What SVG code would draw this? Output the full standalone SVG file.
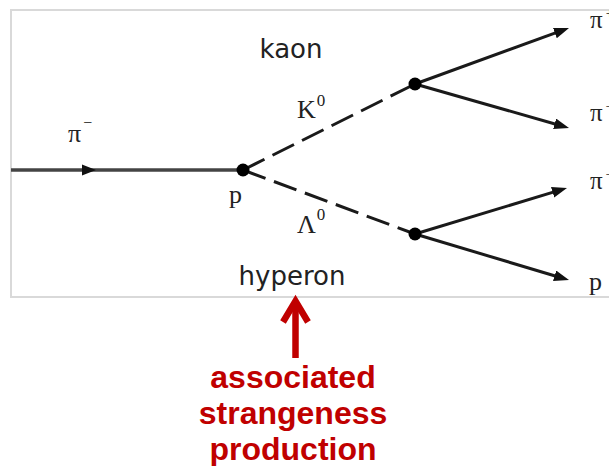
<svg xmlns="http://www.w3.org/2000/svg" width="609" height="466" viewBox="0 0 609 466">
<style>
.serif{font-family:"Liberation Serif","Times New Roman",serif;fill:#222}
.comic{font-family:"DejaVu Sans","Liberation Sans",sans-serif;fill:#222;font-size:26px;text-anchor:middle}
.red{font-family:"Liberation Sans",Arial,sans-serif;font-weight:bold;fill:#c00000;font-size:32px;text-anchor:middle}
.solid{stroke:#1a1a1a;stroke-width:3;fill:none}
.dash{stroke:#1a1a1a;stroke-width:3;fill:none;stroke-dasharray:24 9}
.vtx{fill:#000}
</style>
<defs>
<marker id="ah" markerUnits="userSpaceOnUse" markerWidth="16" markerHeight="12" refX="5" refY="5.5" orient="auto">
<path d="M0,0 L15,5.5 L0,11 z" fill="#111"/>
</marker>
</defs>
<rect x="11" y="10" width="610" height="287" fill="#fff" stroke="#d9d9d9" stroke-width="2"/>
<g id="connectors">
<line x1="11" y1="170" x2="243" y2="170" stroke="#444" stroke-width="3.5"/>
<polygon points="82,164.5 96,170 82,175.5" fill="#111"/>
<line class="dash" x1="243" y1="170" x2="415" y2="84"/>
<line class="dash" x1="243" y1="170" x2="415" y2="234"/>
<line class="solid" x1="415" y1="84" x2="559.6" y2="31.4" marker-end="url(#ah)"/>
<line class="solid" x1="415" y1="84" x2="559.4" y2="125.2" marker-end="url(#ah)"/>
<line class="solid" x1="415" y1="234" x2="557.4" y2="190.9" marker-end="url(#ah)"/>
<line class="solid" x1="415" y1="234" x2="559.4" y2="277.2" marker-end="url(#ah)"/>
</g>
<g id="vertex-p">
<circle class="vtx" cx="243" cy="170" r="6.5"/>
<text class="serif" x="229" y="203" font-size="26">p</text>
</g>
<g id="vertex-k">
<circle class="vtx" cx="415" cy="84" r="6.5"/>
</g>
<g id="vertex-l">
<circle class="vtx" cx="415" cy="234" r="6.5"/>
</g>
<g id="label-pi-in">
<text class="serif" x="68" y="142" font-size="26">π<tspan font-size="16" dx="2" dy="-14">−</tspan></text>
</g>
<g id="label-K0">
<text class="serif" x="297" y="118" font-size="26">K<tspan font-size="17" dx="1" dy="-12">0</tspan></text>
</g>
<g id="label-L0">
<text class="serif" x="297" y="233" font-size="26">Λ<tspan font-size="17" dx="1" dy="-13">0</tspan></text>
</g>
<g id="label-kaon"><text class="comic" x="291" y="58">kaon</text></g>
<g id="label-hyperon"><text class="comic" x="292" y="285">hyperon</text></g>
<g id="out1"><text class="serif" x="590" y="28" font-size="25">π<tspan font-size="14" dx="3" dy="-10">+</tspan></text></g>
<g id="out2"><text class="serif" x="590" y="121" font-size="25">π<tspan font-size="14" dx="3" dy="-10">−</tspan></text></g>
<g id="out3"><text class="serif" x="590" y="189" font-size="25">π<tspan font-size="14" dx="3" dy="-10">−</tspan></text></g>
<g id="out4"><text class="serif" x="589" y="290" font-size="26">p</text></g>
<g id="annotation">
<line x1="295.5" y1="303" x2="295.5" y2="358" stroke="#c00000" stroke-width="6.5"/>
<polyline points="283,322 295.5,301 308,322" fill="none" stroke="#c00000" stroke-width="6.5" stroke-linejoin="miter"/>
<text class="red" x="293" y="388">associated</text>
<text class="red" x="293" y="424">strangeness</text>
<text class="red" x="293" y="460">production</text>
</g>
</svg>
